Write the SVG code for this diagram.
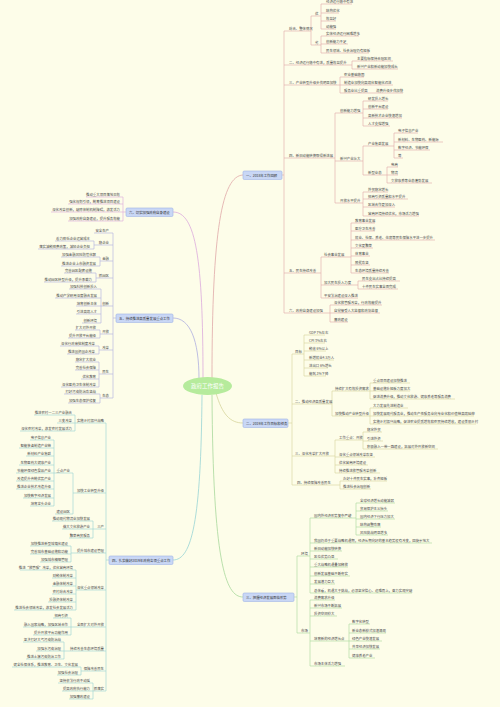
<svg xmlns="http://www.w3.org/2000/svg" width="500" height="707" viewBox="0 0 500 707">
<style>
.t{font-family:"Noto Sans CJK SC","Noto Sans",sans-serif;font-size:3.4px;fill:#4a4a4a}
.r{text-anchor:end}
.b{font-family:"Noto Sans CJK SC","Noto Sans",sans-serif;font-size:3.4px;fill:#333}
.box{fill:#c9d7f5;stroke:#9fb3e6;stroke-width:0.6}
.l{fill:none;stroke-width:0.6}
.k{fill:none;stroke-width:0.8}
.c1{stroke:#e0a8a8}.c2{stroke:#d6d49c}.c3{stroke:#a8d89c}.c4{stroke:#98d4d4}.c5{stroke:#aeaee0}.c6{stroke:#dcaadc}
</style>
<rect width="500" height="707" fill="#fdfde9"/>
<g id="connectors">
<path class="k c1" d="M212,378 C212,230 222,176 243,175"/>
<path class="k c6" d="M203,378 C203,260 196,212 173,212"/>
<path class="k c5" d="M199,379 C199,340 190,318 173,318"/>
<path class="k c2" d="M216,393 C222,414 230,423 243,423"/>
<path class="k c3" d="M212,395 C213,560 225,597 243,597"/>
<path class="k c4" d="M202,395 C201,520 192,560 173,560"/>
<path class="l c1" d="M282,175 H284 M284,31 V313 M284,31 H311 M284,65 H352 M284,85 H340 M284,158 H335 M284,273 H321 M284,313 H330"/>
<path class="l c1" d="M311,16 V45 M311,16 H321 M311,45 H321"/>
<path class="l c1" d="M321,4 V29 M321,4 H352 M321,13 H339 M321,21 H336 M321,29 H336"/>
<path class="l c1" d="M321,36 V53 M321,36 H359 M321,44 H348 M321,53 H369"/>
<path class="l c1" d="M352,61 V69 M352,61 H393 M352,69 H398"/>
<path class="l c1" d="M340,77 V93 M340,77 H364 M340,85 H393 M340,93 H403"/>
<path class="l c1" d="M335,113 V203 M335,113 H363 M335,161 H363 M335,203 H363"/>
<path class="l c1" d="M363,101 V126 M363,101 H388 M363,109 H388 M363,118 H402 M363,126 H390"/>
<path class="l c1" d="M363,146 V175 M363,146 H394 M363,175 H387"/>
<path class="l c1" d="M394,133 V158 M394,133 H418 M394,142 H443 M394,150 H430 M394,158 H403"/>
<path class="l c1" d="M387,167 V183 M387,167 H398 M387,175 H398 M387,183 H432"/>
<path class="l c1" d="M363,192 V216 M363,192 H388 M363,199 H408 M363,207 H395 M363,216 H419"/>
<path class="l c1" d="M321,257 V298 M321,257 H351 M321,285 H358 M321,298 H358"/>
<path class="l c1" d="M351,223 V273 M351,223 H375 M351,231 H375 M351,240 H435 M351,248 H373 M351,256 H370 M351,265 H370 M351,273 H389"/>
<path class="l c1" d="M358,281 V289 M358,281 H400 M358,289 H398"/>
<path class="l c1" d="M330,305 V322 M330,305 H382 M330,313 H380 M330,322 H348"/>
<path class="l c2" d="M288,423 H292 M292,354 V485 M292,354 H304 M292,404 H332 M292,456 H335 M292,485 H340"/>
<path class="l c2" d="M304,335 V376 M304,335 H325 M304,343 H325 M304,351 H326 M304,360 H334 M304,368 H328 M304,376 H326"/>
<path class="l c2" d="M332,391 V416 M332,391 H370 M332,416 H370"/>
<path class="l c2" d="M370,383 V399 M370,383 H410 M370,391 H410 M370,399 H455"/>
<path class="l c2" d="M370,408 V424 M370,408 H408 M370,416 H474 M370,424 H476"/>
<path class="l c2" d="M335,440 V473 M335,440 H363 M335,457 H375 M335,465 H368 M335,473 H380"/>
<path class="l c2" d="M363,432 V449 M363,432 H382 M363,441 H383 M363,449 H438"/>
<path class="l c2" d="M340,481 V489 M340,481 H387 M340,489 H371"/>
<path class="l c3" d="M294,597 H297 M297,556 V633 M297,556 H310 M297,633 H310"/>
<path class="l c3" d="M310,518 V593 M310,518 H356 M310,543 H432 M310,551 H342 M310,559 H338 M310,567 H348 M310,576 H350 M310,584 H335 M310,593 H412"/>
<path class="l c3" d="M356,503 V535 M356,503 H395 M356,511 H388 M356,519 H395 M356,527 H381 M356,535 H388"/>
<path class="l c3" d="M310,600 V666 M310,600 H335 M310,608 H342 M310,616 H337 M310,641 H349 M310,666 H345"/>
<path class="l c3" d="M349,624 V658 M349,624 H370 M349,633 H386 M349,641 H382 M349,649 H380 M349,658 H375"/>
<path class="l c6" d="M126,212 H123 M123,197 V221 M123,197 H86 M123,204 H68 M123,212 H51 M123,221 H68"/>
<path class="l c5" d="M116,318 H113 M113,233 V398 M113,233 H94 M113,245 H94 M113,261 H100 M113,278 H96 M113,306 H101 M113,334 H100 M113,350 H99 M113,374 H99 M113,398 H100"/>
<path class="l c5" d="M94,241 V249 M94,241 H55 M94,249 H38"/>
<path class="l c5" d="M100,257 V266 M100,257 H61 M100,266 H61"/>
<path class="l c5" d="M96,273 V282 M96,273 H64 M96,282 H44"/>
<path class="l c5" d="M101,289 V323 M101,289 H69 M101,298 H55 M101,306 H76 M101,314 H76 M101,323 H82"/>
<path class="l c5" d="M100,330 V338 M100,330 H75 M100,338 H68"/>
<path class="l c5" d="M99,346 V354 M99,346 H60 M99,354 H67"/>
<path class="l c5" d="M99,362 V387 M99,362 H75 M99,370 H75 M99,379 H81 M99,387 H61"/>
<path class="l c5" d="M100,394 V403 M100,394 H64 M100,403 H68"/>
<path class="l c4" d="M109,560 H106 M106,423 V691 M106,423 H75 M106,493 H73 M106,529 H93 M106,553 H71 M106,590 H76 M106,627 H71 M106,651 H64 M106,671 H81 M106,691 H93"/>
<path class="l c4" d="M75,415 V431 M75,415 H34 M75,423 H57 M75,431 H20"/>
<path class="l c4" d="M73,473 V514 M73,473 H54 M73,514 H55"/>
<path class="l c4" d="M54,440 V506 M54,440 H30 M54,448 H19 M54,456 H26 M54,465 H19 M54,473 H16 M54,481 H16 M54,489 H16 M54,498 H23 M54,506 H30"/>
<path class="l c4" d="M93,521 V538 M93,521 H52 M93,529 H62 M93,538 H69"/>
<path class="l c4" d="M71,546 V562 M71,546 H30 M71,554 H30 M71,562 H40"/>
<path class="l c4" d="M76,570 V610 M76,570 H20 M76,578 H52 M76,586 H52 M76,594 H52 M76,602 H48 M76,610 H14"/>
<path class="l c4" d="M71,618 V635 M71,618 H53 M71,627 H23 M71,635 H33"/>
<path class="l c4" d="M64,642 V659 M64,642 H23 M64,651 H36 M64,659 H26"/>
<path class="l c4" d="M81,667 V675 M81,667 H12 M81,675 H57"/>
<path class="l c4" d="M93,683 V699 M93,683 H58 M93,691 H62 M93,699 H69"/>
</g>
<g id="center"><ellipse cx="207.5" cy="386" rx="24.5" ry="9" fill="#b6eb9c"/><text x="207.5" y="388" text-anchor="middle" style="font-family:'Noto Sans CJK SC','Noto Sans',sans-serif;font-size:5.5px;fill:#fff">政府工作报告</text></g>
<g id="b1"><rect class="box" x="243" y="171" width="39" height="8.5" rx="1.2"/><text class="b" x="246" y="176.6">一、2018年工作回顾</text></g>
<g id="b2"><rect class="box" x="243" y="419" width="45" height="8.5" rx="1.2"/><text class="b" x="246" y="424.6">二、2019年工作目标和任务</text></g>
<g id="b3"><rect class="box" x="243" y="593" width="51" height="8.5" rx="1.2"/><text class="b" x="246" y="598.6">三、把握经济发展面临形势</text></g>
<g id="b4"><rect class="box" x="109" y="556" width="64" height="8.5" rx="1.2"/><text class="b" x="112" y="561.6">四、扎实做好2019年政府各项重点工作</text></g>
<g id="b5"><rect class="box" x="116" y="314" width="57" height="8.5" rx="1.2"/><text class="b" x="119" y="319.6">五、持续推进高质量发展重点工作</text></g>
<g id="b6"><rect class="box" x="126" y="208" width="47" height="8.5" rx="1.2"/><text class="b" x="129" y="213.6">六、切实加强政府自身建设</text></g>
<g id="n1" class="t">
<g id="n1a"><text x="289" y="30">综合、整体情况</text></g>
<g id="n1a1"><text x="315" y="15">优</text></g>
<g id="n1a1a"><text x="326" y="3">经济运行稳中有进</text></g>
<g id="n1a1b"><text x="326" y="12">结构优化</text></g>
<g id="n1a1c"><text x="326" y="20">效益好</text></g>
<g id="n1a1d"><text x="326" y="28">动能强</text></g>
<g id="n1a2"><text x="315" y="44">劣</text></g>
<g id="n1a2a"><text x="326" y="35">实体经济运行困难增多</text></g>
<g id="n1a2b"><text x="326" y="43">创新能力不足</text></g>
<g id="n1a2c"><text x="326" y="52">民生领域、社会治理仍有短板</text></g>
<g id="n1b"><text x="289" y="64">二、经济运行稳中有进，质量效益提升</text></g>
<g id="n1b1"><text x="357" y="60">主要指标保持合理区间</text></g>
<g id="n1b2"><text x="357" y="68">新兴产业和新动能加快成长</text></g>
<g id="n1c"><text x="289" y="84">三、产业转型升级步伐明显加快</text></g>
<g id="n1c1"><text x="344" y="76">农业基础稳固</text></g>
<g id="n1c2"><text x="344" y="84">制造业加快向高端化智能化迈进</text></g>
<g id="n1c3"><text x="344" y="92">服务业比重提高</text></g>
<g id="n1c3a"><text x="376" y="92">消费升级步伐加快</text></g>
<g id="n1d"><text x="289" y="157">四、新旧动能转换取得新进展</text></g>
<g id="n1d1"><text x="340" y="112">创新能力增强</text></g>
<g id="n1d1a"><text x="368" y="100">研发投入增长</text></g>
<g id="n1d1b"><text x="368" y="108">创新平台建设</text></g>
<g id="n1d1c"><text x="368" y="117">高新技术企业快速增加</text></g>
<g id="n1d1d"><text x="368" y="125">人才支撑增强</text></g>
<g id="n1d2"><text x="340" y="160">新兴产业壮大</text></g>
<g id="n1d2a"><text x="368" y="145">产业集群发展</text></g>
<g id="n1d2a1"><text x="398" y="132">电子信息产业</text></g>
<g id="n1d2a2"><text x="398" y="141">新材料、生物医药、新能源</text></g>
<g id="n1d2a3"><text x="398" y="149">数字经济、节能环保</text></g>
<g id="n1d2a4"><text x="398" y="157">等</text></g>
<g id="n1d2b"><text x="368" y="174">新型业态</text></g>
<g id="n1d2b1"><text x="391" y="166">电商</text></g>
<g id="n1d2b2"><text x="391" y="174">物流</text></g>
<g id="n1d2b3"><text x="391" y="182">文旅康养等业态蓬勃发展</text></g>
<g id="n1d3"><text x="340" y="202">开放水平提升</text></g>
<g id="n1d3a"><text x="368" y="191">外贸稳定增长</text></g>
<g id="n1d3b"><text x="368" y="198">招商引资质量和水平提升</text></g>
<g id="n1d3c"><text x="368" y="206">区域合作更加深入</text></g>
<g id="n1d3d"><text x="368" y="215">营商环境持续优化，市场活力增强</text></g>
<g id="n1e"><text x="289" y="272">五、民生持续改善</text></g>
<g id="n1e1"><text x="324" y="256">社会事业发展</text></g>
<g id="n1e1a"><text x="355" y="222">教育事业发展</text></g>
<g id="n1e1b"><text x="355" y="230">医疗卫生改善</text></g>
<g id="n1e1c"><text x="355" y="239">就业、社保、养老、住房等民生保障水平进一步提升</text></g>
<g id="n1e1d"><text x="355" y="247">文化更繁荣</text></g>
<g id="n1e1e"><text x="355" y="255">体育事业</text></g>
<g id="n1e1f"><text x="355" y="264">脱贫攻坚</text></g>
<g id="n1e1g"><text x="355" y="272">生态环境质量持续改善</text></g>
<g id="n1e2"><text x="324" y="284">加大民生投入力度</text></g>
<g id="n1e2a"><text x="362" y="280">民生支出占比持续提高</text></g>
<g id="n1e2b"><text x="362" y="288">十件民生实事全面完成</text></g>
<g id="n1e3"><text x="324" y="297">平安法治建设深入推进</text></g>
<g id="n1f"><text x="289" y="312">六、政府自身建设加强</text></g>
<g id="n1f1"><text x="334" y="304">深化放管服改革，行政效能提升</text></g>
<g id="n1f2"><text x="334" y="312">自觉接受人大监督和政协监督</text></g>
<g id="n1f3"><text x="334" y="321">廉政建设</text></g>
</g>
<g id="n2" class="t">
<g id="n2a"><text x="295" y="353">目标</text></g>
<g id="n2a1"><text x="309" y="334">GDP 7%左右</text></g>
<g id="n2a2"><text x="309" y="342">CPI 3%左右</text></g>
<g id="n2a3"><text x="309" y="350">税收 6%以上</text></g>
<g id="n2a4"><text x="309" y="359">新增就业4.5万人</text></g>
<g id="n2a5"><text x="309" y="367">进出口 6%增长</text></g>
<g id="n2a6"><text x="309" y="375">能耗 3%下降</text></g>
<g id="n2b"><text x="295" y="403">二、推动经济高质量发展</text></g>
<g id="n2b1"><text x="335" y="390">持续扩大有效投资需求</text></g>
<g id="n2b1a"><text x="373" y="382">重点项目建设加快推进</text></g>
<g id="n2b1b"><text x="373" y="390">基础设施补短板力度加大</text></g>
<g id="n2b1c"><text x="373" y="398">促进消费升级，推动文化旅游、健康养老等服务消费</text></g>
<g id="n2b2"><text x="335" y="415">加快推动产业转型升级</text></g>
<g id="n2b2a"><text x="373" y="407">大力发展先进制造业</text></g>
<g id="n2b2b"><text x="373" y="415">加快发展现代服务业，推动生产性服务业向专业化和价值链高端延伸</text></g>
<g id="n2b2c"><text x="373" y="423">实施乡村振兴战略，促进农业提质增效和农民持续增收，建设美丽乡村</text></g>
<g id="n2c"><text x="295" y="455">三、深化改革扩大开放</text></g>
<g id="n2c1"><text x="339" y="439">工作重点：开放</text></g>
<g id="n2c1a"><text x="367" y="431">稳定外贸</text></g>
<g id="n2c1b"><text x="367" y="440">引进外资</text></g>
<g id="n2c1c"><text x="367" y="448">积极融入一带一路建设，拓展对外开放新空间</text></g>
<g id="n2c2"><text x="339" y="456">深化重点领域改革攻坚</text></g>
<g id="n2c3"><text x="339" y="464">优化营商环境建设</text></g>
<g id="n2c4"><text x="339" y="472">持续推进放管服改革创新</text></g>
<g id="n2d"><text x="297" y="484">四、持续保障改善民生</text></g>
<g id="n2d1"><text x="343" y="480">办好十件民生实事，补齐短板</text></g>
<g id="n2d2"><text x="343" y="488">推进社会治理创新</text></g>
</g>
<g id="n3" class="t">
<g id="n3a"><text x="301" y="555">环境</text></g>
<g id="n3a1"><text x="314" y="517">国内外经济形势复杂严峻</text></g>
<g id="n3a1a"><text x="360" y="502">全球经济增长动能减弱</text></g>
<g id="n3a1b"><text x="360" y="510">贸易保护主义抬头</text></g>
<g id="n3a1c"><text x="360" y="518">国内经济下行压力加大</text></g>
<g id="n3a1d"><text x="360" y="526">结构调整阵痛</text></g>
<g id="n3a1e"><text x="360" y="534">风险挑战明显增多</text></g>
<g id="n3a2"><text x="314" y="542">我国仍处于重要战略机遇期，经济长期向好的基本趋势没有改变，回旋余地大</text></g>
<g id="n3a3"><text x="314" y="550">新旧动能加快转换</text></g>
<g id="n3a4"><text x="314" y="558">区位优势凸显</text></g>
<g id="n3a5"><text x="314" y="566">重大战略机遇叠加释放</text></g>
<g id="n3a6"><text x="314" y="575">创新发展基础不断夯实</text></g>
<g id="n3a7"><text x="314" y="583">发展潜力巨大</text></g>
<g id="n3a8"><text x="314" y="592">总体看，机遇大于挑战，必须坚定信心、迎难而上，奋力实现突破</text></g>
<g id="n3b"><text x="301" y="632">市场</text></g>
<g id="n3b1"><text x="314" y="599">消费需求升级</text></g>
<g id="n3b2"><text x="314" y="607">新兴市场不断拓展</text></g>
<g id="n3b3"><text x="314" y="615">投资空间较大</text></g>
<g id="n3b4"><text x="314" y="640">培育新的经济增长点</text></g>
<g id="n3b4a"><text x="352" y="623">数字化转型</text></g>
<g id="n3b4b"><text x="352" y="632">新业态新模式加速涌现</text></g>
<g id="n3b4c"><text x="352" y="640">绿色产业快速发展</text></g>
<g id="n3b4d"><text x="352" y="648">共享经济加快发展</text></g>
<g id="n3b4e"><text x="352" y="657">健康养老产业</text></g>
<g id="n3b5"><text x="314" y="665">市场主体活力增强</text></g>
</g>
<g id="n6" class="t r">
<g id="n6a"><text x="120" y="196">推动重大项目落地见效</text></g>
<g id="n6b"><text x="120" y="203">强化规划引领，统筹推进项目建设</text></g>
<g id="n6c"><text x="120" y="211">深化改革创新，破除体制机制障碍，激发活力</text></g>
<g id="n6d"><text x="120" y="220">加强政府自身建设，提升服务效能</text></g>
</g>
<g id="n5" class="t r">
<g id="n5a"><text x="109" y="232">安全生产</text></g>
<g id="n5b"><text x="109" y="244">稳企业</text></g>
<g id="n5b1"><text x="90" y="240">着力降低企业运营成本</text></g>
<g id="n5b2"><text x="90" y="248">落实减税降费政策，减轻企业负担</text></g>
<g id="n5c"><text x="109" y="260">金融</text></g>
<g id="n5c1"><text x="96" y="256">加强金融风险防范化解</text></g>
<g id="n5c2"><text x="96" y="265">推进企业上市融资发展</text></g>
<g id="n5d"><text x="109" y="277">抓园区</text></g>
<g id="n5d1"><text x="92" y="272">完善园区配套设施</text></g>
<g id="n5d2"><text x="92" y="281">推动园区转型升级，提升承载力</text></g>
<g id="n5e"><text x="109" y="305">创新</text></g>
<g id="n5e1"><text x="97" y="288">加强科技创新投入</text></g>
<g id="n5e2"><text x="97" y="297">推动产学研用深度融合发展</text></g>
<g id="n5e3"><text x="97" y="305">培育创新主体</text></g>
<g id="n5e4"><text x="97" y="313">引进高端人才</text></g>
<g id="n5e5"><text x="97" y="322">创新环境</text></g>
<g id="n5f"><text x="109" y="333">开放</text></g>
<g id="n5f1"><text x="96" y="329">扩大对外开放</text></g>
<g id="n5f2"><text x="96" y="337">提升开放平台能级</text></g>
<g id="n5g"><text x="109" y="349">改革</text></g>
<g id="n5g1"><text x="95" y="345">深化行政审批制度改革</text></g>
<g id="n5g2"><text x="95" y="353">推进国资国企改革</text></g>
<g id="n5h"><text x="109" y="373">民生</text></g>
<g id="n5h1"><text x="96" y="361">稳定扩大就业</text></g>
<g id="n5h2"><text x="96" y="369">完善社会保障</text></g>
<g id="n5h3"><text x="96" y="378">优化教育</text></g>
<g id="n5h4"><text x="96" y="386">深化医药卫生体制改革</text></g>
<g id="n5i"><text x="109" y="397">生态</text></g>
<g id="n5i1"><text x="96" y="393">打好污染防治攻坚战</text></g>
<g id="n5i2"><text x="96" y="402">加强生态保护修复</text></g>
</g>
<g id="n4" class="t r">
<g id="n4a"><text x="104" y="422">实施乡村振兴战略</text></g>
<g id="n4a1"><text x="72" y="414">推进农村一二三产业融合</text></g>
<g id="n4a2"><text x="72" y="422">三变改革</text></g>
<g id="n4a3"><text x="72" y="430">深化农村改革，激发农村发展活力</text></g>
<g id="n4b"><text x="104" y="492">加快工业转型升级</text></g>
<g id="n4b1"><text x="70" y="472">重点产业</text></g>
<g id="n4b1a"><text x="51" y="439">电子信息产业</text></g>
<g id="n4b1b"><text x="51" y="447">智能装备制造产业链</text></g>
<g id="n4b1c"><text x="51" y="455">新材料产业集群</text></g>
<g id="n4b1d"><text x="51" y="464">生物医药大健康产业</text></g>
<g id="n4b1e"><text x="51" y="472">节能环保绿色食品产业</text></g>
<g id="n4b1f"><text x="51" y="480">改造提升传统优势产业</text></g>
<g id="n4b1g"><text x="51" y="488">推进企业技术改造升级</text></g>
<g id="n4b1h"><text x="51" y="497">加快数字经济发展</text></g>
<g id="n4b1i"><text x="51" y="505">培育龙头企业</text></g>
<g id="n4b2"><text x="70" y="513">建设园区</text></g>
<g id="n4c"><text x="104" y="528">三产</text></g>
<g id="n4c1"><text x="90" y="520">推动现代物流业加快发展</text></g>
<g id="n4c2"><text x="90" y="528">做大文化旅游产业</text></g>
<g id="n4c3"><text x="90" y="537">繁荣商贸服务</text></g>
<g id="n4d"><text x="104" y="552">提升城市建设管理</text></g>
<g id="n4d1"><text x="68" y="545">加快推进新型城镇化建设</text></g>
<g id="n4d2"><text x="68" y="553">完善城市基础设施和功能</text></g>
<g id="n4d3"><text x="68" y="561">加强城市精细管理</text></g>
<g id="n4e"><text x="104" y="589">深化重点领域改革</text></g>
<g id="n4e1"><text x="73" y="569">推进“放管服”改革，优化营商环境</text></g>
<g id="n4e2"><text x="73" y="577">财税体制改革</text></g>
<g id="n4e3"><text x="73" y="585">金融体制改革</text></g>
<g id="n4e4"><text x="73" y="593">农村综合改革</text></g>
<g id="n4e5"><text x="73" y="601">投融资体制改革</text></g>
<g id="n4e6"><text x="73" y="609">推进社会领域改革，激发社会发展活力</text></g>
<g id="n4f"><text x="104" y="626">全面扩大对外开放</text></g>
<g id="n4f1"><text x="68" y="617">招商引资</text></g>
<g id="n4f2"><text x="68" y="626">融入国家战略，加强区域合作</text></g>
<g id="n4f3"><text x="68" y="634">提升开放平台功能作用</text></g>
<g id="n4g"><text x="104" y="650">持续改善生态环境质量</text></g>
<g id="n4g1"><text x="61" y="641">坚决打好大气污染防治战</text></g>
<g id="n4g2"><text x="61" y="650">加强水污染治理</text></g>
<g id="n4g3"><text x="61" y="658">推进土壤污染防治工作</text></g>
<g id="n4h"><text x="104" y="670">保障改善民生</text></g>
<g id="n4h1"><text x="78" y="666">健全社保体系，推进教育、卫生、文化发展</text></g>
<g id="n4h2"><text x="78" y="674">加强社会治理</text></g>
<g id="n4i"><text x="104" y="690">抓落实</text></g>
<g id="n4i1"><text x="90" y="682">坚持依法行政不动摇</text></g>
<g id="n4i2"><text x="90" y="690">提高政府执行能力</text></g>
<g id="n4i3"><text x="90" y="698">加强廉政建设</text></g>
</g>
</svg>
